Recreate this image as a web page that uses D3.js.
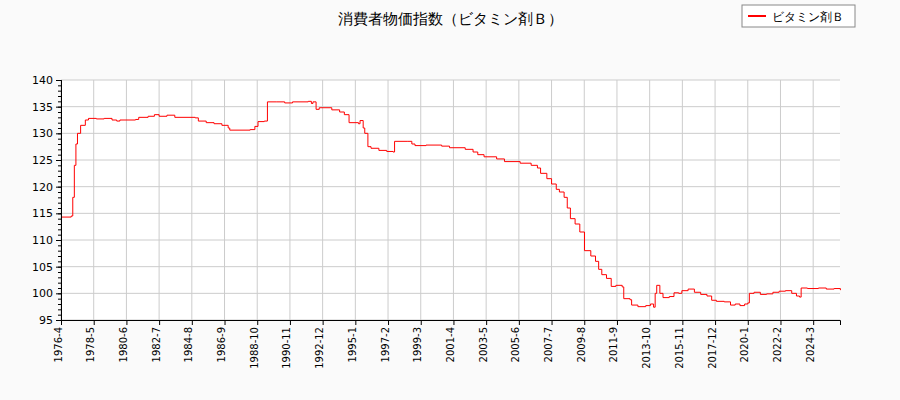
<!DOCTYPE html><html><head><meta charset="utf-8"><script src="https://cdn.jsdelivr.net/npm/d3@7"></script>
<style>body{margin:0;background:#fafafa}text{font-family:"DejaVu Sans",sans-serif}</style></head><body><svg id="c" width="900" height="400"></svg>
<script>
const title="消費者物価指数（ビタミン剤Ｂ）";
const seriesName="ビタミン剤Ｂ";
const xTickLabels=["1976-4","1978-5","1980-6","1982-7","1984-8","1986-9","1988-10","1990-11","1992-12","1995-1","1997-2","1999-3","2001-4","2003-5","2005-6","2007-7","2009-8","2011-9","2013-10","2015-11","2017-12","2020-1","2022-2","2024-3"];
const yTicks=[95,100,105,110,115,120,125,130,135,140];
const times=[1976.25,1976.9,1977.0,1977.1,1977.2,1977.3,1977.5,1977.8,1978.0,1978.5,1979.0,1979.5,1979.8,1980.0,1981.0,1981.2,1981.8,1982.2,1982.5,1983.0,1983.5,1984.8,1985.0,1985.5,1986.0,1986.5,1986.9,1987.0,1988.3,1988.6,1988.8,1989.2,1989.4,1990.0,1990.5,1991.0,1992.0,1992.2,1992.3,1992.5,1992.7,1993.5,1994.0,1994.3,1994.6,1995.2,1995.3,1995.5,1995.6,1995.8,1996.0,1996.5,1997.0,1997.4,1997.5,1998.3,1998.6,1998.8,1999.5,2000.5,2001.0,2002.0,2002.5,2002.8,2003.2,2004.0,2004.5,2005.5,2006.2,2006.6,2006.8,2007.2,2007.5,2007.8,2008.0,2008.3,2008.5,2008.7,2009.0,2009.3,2009.6,2010.0,2010.3,2010.5,2010.7,2011.0,2011.3,2011.6,2012.0,2012.1,2012.5,2012.6,2013.0,2013.5,2013.8,2014.0,2014.1,2014.2,2014.4,2014.6,2015.0,2015.3,2015.6,2015.8,2016.2,2016.6,2017.0,2017.4,2017.7,2018.0,2018.5,2018.9,2019.2,2019.5,2019.8,2020.0,2020.1,2020.4,2020.8,2021.2,2021.6,2022.0,2022.4,2022.8,2023.1,2023.3,2023.4,2023.8,2024.5,2025.0,2025.5,2025.9];
const values=[114.3,114.5,118,124,128,130,131.5,132.5,132.8,132.7,132.8,132.5,132.3,132.5,132.6,133,133.2,133.5,133.2,133.4,133,132.9,132.3,132,131.8,131.5,131,130.6,130.7,131.3,132.2,132.3,135.9,135.9,135.7,135.9,136.0,135.6,135.9,134.5,134.8,134.4,134,133.5,132,131.8,132.4,131,130,127.5,127.2,126.8,126.6,126.5,128.5,128.5,128,127.7,127.8,127.6,127.3,127,126.5,126,125.6,125.2,124.7,124.4,124,123.5,122.5,121.5,120.5,119.5,119,118,116,114,113,111.5,108,107,106,104.5,103.5,102.8,101.3,101.5,101.2,99,98.8,97.8,97.5,97.7,98,97.4,100,101.5,100,99.2,99.4,100.1,100,100.5,100.8,100.2,99.8,99.5,98.7,98.5,98.4,97.8,98,97.7,98,98.2,100,100.2,99.8,99.9,100.2,100.4,100.5,100,99.5,99.3,101,100.9,101,100.8,100.9,100.6];
const mIdx=s=>{const [y,m]=s.split("-").map(Number);return y*12+m-1;};
const t0=mIdx("1976-4");
const L=61,R=840,T=80,B=320;
const x=d3.scaleLinear().domain([0,mIdx("2025-11")-t0+0.5]).range([L,R]);
const y=d3.scaleLinear().domain([95,140]).range([B,T]);
const svg=d3.select("#c");
svg.append("rect").attr("x",L).attr("y",T).attr("width",R-L).attr("height",B-T).attr("fill","#fff");
const g=svg.append("g");
xTickLabels.forEach(s=>{const xx=x(mIdx(s)-t0);g.append("line").attr("x1",xx).attr("x2",xx).attr("y1",T).attr("y2",B).attr("stroke","#ccc");});
yTicks.forEach(v=>g.append("line").attr("x1",L).attr("x2",R).attr("y1",y(v)).attr("y2",y(v)).attr("stroke","#ccc"));
const data=times.map((t,i)=>[(t-1976.25)*12,values[i]]);
svg.append("path").datum(data).attr("fill","none").attr("stroke","red").attr("stroke-width",1)
 .attr("d",d3.line().x(d=>x(d[0])).y(d=>y(d[1])).curve(d3.curveStepAfter));
const ya=svg.append("g").attr("transform",`translate(${L},0)`).call(d3.axisLeft(y).tickValues(yTicks).tickSize(5));
ya.append("g").call(d3.axisLeft(y).tickValues(d3.range(95,141,1)).tickSize(3).tickFormat(""));
const xa=svg.append("g").attr("transform",`translate(0,${B})`).call(d3.axisBottom(x).tickValues(xTickLabels.map(s=>mIdx(s)-t0)).tickFormat((d,i)=>xTickLabels[i]).tickSize(5));
xa.selectAll("text").attr("transform","rotate(-90)").attr("text-anchor","end").attr("dx","-7").attr("dy","-0.3em").attr("x",0).attr("y",0).style("dominant-baseline","middle");
svg.selectAll(".tick text").attr("font-size",10).attr("fill","#000");
ya.selectAll("text").attr("font-size",11);
svg.selectAll(".domain").attr("stroke","#000");
svg.append("text").attr("x",450).attr("y",24).attr("text-anchor","middle").attr("font-size",15).text(title);
svg.append("rect").attr("x",742).attr("y",5).attr("width",113).attr("height",22).attr("fill","#fff").attr("stroke","#888");
svg.append("line").attr("x1",748).attr("x2",766).attr("y1",16).attr("y2",16).attr("stroke","red").attr("stroke-width",2);
svg.append("text").attr("x",772).attr("y",21).attr("font-size",12).text(seriesName);
</script></body></html>
